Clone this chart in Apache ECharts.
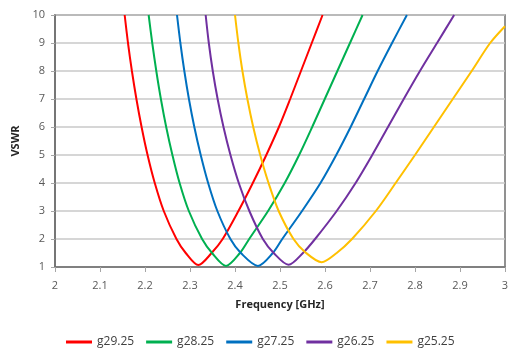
<!DOCTYPE html>
<html>
<head>
<meta charset="utf-8">
<script src="https://cdn.jsdelivr.net/npm/echarts@6/dist/echarts.min.js"></script>
<style>
  html, body { margin: 0; padding: 0; background: #fff; }
  #chart { width: 514px; height: 352px; }
</style>
</head>
<body>
<div id="chart"></div>
<script>
// VSWR vs frequency, one sweep per gap setting: [frequency GHz, VSWR]
const g2925 = [[2.1548,10],[2.1622,9],[2.1709,8],[2.1809,7],[2.1924,6],[2.2057,5],[2.2217,4],[2.2417,3],[2.2699,2],[2.2905,1.5],[2.3185,1.07],[2.348,1.5],[2.3726,2],[2.4076,3],[2.4396,4],[2.4696,5],[2.4976,6],[2.5226,7],[2.5466,8],[2.5706,9],[2.5946,10]];
const g2825 = [[2.2081,10],[2.2161,9],[2.2251,8],[2.2353,7],[2.2471,6],[2.2609,5],[2.2769,4],[2.2974,3],[2.3269,2],[2.349,1.5],[2.38,1.04],[2.411,1.5],[2.4315,2],[2.4735,3],[2.5105,4],[2.5425,5],[2.5715,6],[2.5995,7],[2.6275,8],[2.6555,9],[2.6835,10]];
const g2725 = [[2.2711,10],[2.2786,9],[2.2874,8],[2.2976,7],[2.3096,6],[2.3238,5],[2.3403,4],[2.3608,3],[2.3898,2],[2.413,1.5],[2.451,1.04],[2.484,1.5],[2.505,2],[2.549,3],[2.590,4],[2.625,5],[2.657,6],[2.687,7],[2.717,8],[2.749,9],[2.782,10]];
const g2625 = [[2.3348,10],[2.3418,9],[2.3506,8],[2.3614,7],[2.3744,6],[2.3899,5],[2.4084,4],[2.4319,3],[2.4619,2],[2.486,1.5],[2.519,1.08],[2.551,1.5],[2.578,2],[2.626,3],[2.668,4],[2.705,5],[2.740,6],[2.775,7],[2.811,8],[2.849,9],[2.887,10]];
const g2525 = [[2.4,10],[2.4075,9],[2.4165,8],[2.4275,7],[2.4405,6],[2.456,5],[2.4745,4],[2.497,3],[2.530,2],[2.556,1.53],[2.5926,1.17],[2.626,1.5],[2.660,2],[2.713,3],[2.757,4],[2.8,5],[2.842,6],[2.884,7],[2.926,8],[2.967,9],[3.0,9.6]];

const seriesNames = ['g29.25', 'g28.25', 'g27.25', 'g26.25', 'g25.25'];
const seriesData = [g2925, g2825, g2725, g2625, g2525];
const seriesColors = ['#FF0000', '#00B050', '#0070C0', '#7030A0', '#FFC000'];

const xTicks = { min: 2, max: 3, step: 0.1 };
const yTicks = { min: 1, max: 10, step: 1 };

const FONT = '"Open Sans", "Noto Sans", sans-serif';
const AXIS_DARK = '#6e6e6e';

const chart = echarts.init(document.getElementById('chart'), null, { renderer: 'canvas' });

chart.setOption({
  animation: false,
  backgroundColor: '#ffffff',
  grid: {
    left: 55, right: 9, top: 15, bottom: 85,
    show: true, borderColor: AXIS_DARK, borderWidth: 1.5,
    containLabel: false
  },
  legend: {
    data: seriesNames.map((n, i) => ({ name: n, icon: 'rect', itemStyle: { color: seriesColors[i] } })),
    left: 61, top: 331,
    itemWidth: 26, itemHeight: 3, itemGap: 12,
    textStyle: { fontFamily: FONT, fontSize: 12, color: '#404040' }
  },
  xAxis: {
    type: 'value',
    min: xTicks.min, max: xTicks.max, interval: xTicks.step,
    name: 'Frequency [GHz]',
    nameLocation: 'middle', nameGap: 32,
    nameTextStyle: { fontFamily: FONT, fontSize: 11, fontWeight: 'bold', color: '#262626' },
    axisLine: { show: true, onZero: false, lineStyle: { color: AXIS_DARK, width: 1.5 } },
    axisTick: { show: true, length: 5, lineStyle: { color: '#a6a6a6' } },
    axisLabel: {
      margin: 13, fontFamily: FONT, fontSize: 11, color: '#595959',
      formatter: v => String(+v.toFixed(1))
    },
    splitLine: { show: false }
  },
  yAxis: {
    type: 'value',
    min: yTicks.min, max: yTicks.max, interval: yTicks.step,
    name: 'VSWR',
    nameLocation: 'middle', nameGap: 26, nameRotate: 90,
    nameTextStyle: { fontFamily: FONT, fontSize: 11, fontWeight: 'bold', color: '#262626' },
    axisLine: { show: true, onZero: false, lineStyle: { color: AXIS_DARK, width: 1.5 } },
    axisTick: { show: true, length: 4, lineStyle: { color: '#a6a6a6' } },
    axisLabel: { margin: 10, fontFamily: FONT, fontSize: 11, color: '#595959' },
    splitLine: { show: true, lineStyle: { color: '#c8c8c8', width: 1.5 } }
  },
  series: seriesNames.map((name, i) => ({
    name: name,
    type: 'line',
    data: seriesData[i],
    smooth: 0.3,
    showSymbol: false,
    symbol: 'none',
    clip: true,
    color: seriesColors[i],
    lineStyle: { color: seriesColors[i], width: 2 }
  }))
});
</script>
</body>
</html>
